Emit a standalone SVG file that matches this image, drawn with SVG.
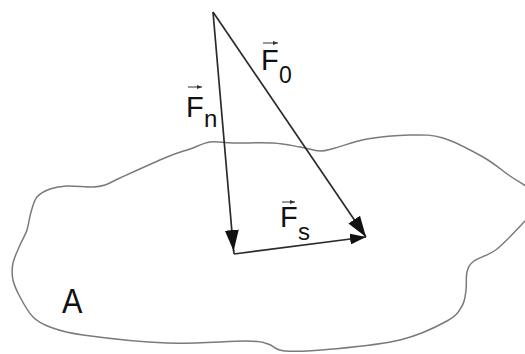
<svg xmlns="http://www.w3.org/2000/svg" width="525" height="354" viewBox="0 0 525 354">
<style>
.blob{fill:none;stroke:#7a7a7a;stroke-width:1.5}
.vec{fill:none;stroke:#2a2a2a;stroke-width:1.7}
.ov{fill:none;stroke:#333;stroke-width:1}
.lbl{font-family:"Liberation Sans",Arial,sans-serif;fill:#111}
</style>
<defs>
<marker id="big" markerUnits="userSpaceOnUse" markerWidth="22" markerHeight="14" refX="21" refY="7" orient="auto"><path d="M0,0 L21,7 L0,14 Z" fill="#111"/></marker>
<marker id="small" markerUnits="userSpaceOnUse" markerWidth="16" markerHeight="11" refX="16" refY="5.5" orient="auto"><path d="M0,0 L16,5.5 L0,11 Z" fill="#111"/></marker>
<marker id="tiny" markerUnits="userSpaceOnUse" markerWidth="5" markerHeight="4" refX="5" refY="2" orient="auto"><path d="M0,0 L5,2 L0,4 Z" fill="#333"/></marker>
</defs>
<g id="areaA">
<path class="blob" d="M37,197 C40.2,193.2 45,190.8 50,189 C55,187.2 59.8,186.3 67,186 C74.2,185.7 86.7,187.2 93,187 C99.3,186.8 100.5,186.5 105,185 C109.5,183.5 109.7,182.7 120,178 C130.3,173.3 155.3,161.8 167,157 C178.7,152.2 182.8,151.5 190,149 C197.2,146.5 202.8,143 210,142 C217.2,141 222.5,142.8 233,143 C243.5,143.2 261.8,142.3 273,143 C284.2,143.7 292.2,145.7 300,147 C307.8,148.3 314.2,150.8 320,151 C325.8,151.2 327.2,150 335,148 C342.8,146 354.5,141.2 367,139 C379.5,136.8 397.3,135.2 410,135 C422.7,134.8 430.8,134.3 443,138 C455.2,141.7 471.8,150.7 483,157 C494.2,163.3 502.5,170.8 510,176 C517.5,181.2 523,183.2 528,188 C533,192.8 540.3,199.7 540,205 C539.7,210.3 533.2,212.7 526,220 C518.8,227.3 505.7,242.2 497,249 C488.3,255.8 479,257.2 474,261 C469,264.8 468.3,267.2 467,272 C465.7,276.8 466.8,284.3 466,290 C465.2,295.7 465.2,300.8 462,306 C458.8,311.2 457.3,315.3 447,321 C436.7,326.7 419,335.3 400,340 C381,344.7 352.2,347.2 333,349 C313.8,350.8 295.8,351.8 285,351 C274.2,350.2 274.3,345.7 268,344 C261.7,342.3 263.8,341.2 247,341 C230.2,340.8 194.3,344 167,343 C139.7,342 102.5,337.7 83,335 C63.5,332.3 58.3,330 50,327 C41.7,324 38,322 33,317 C28,312 23.3,303.2 20,297 C16.7,290.8 14.2,285.7 13,280 C11.8,274.3 11.8,268.8 13,263 C14.2,257.2 17.7,250.5 20,245 C22.3,239.5 25.2,235.5 27,230 C28.8,224.5 29.3,217.5 31,212 C32.7,206.5 33.8,200.8 37,197 Z"/>
<text class="lbl" transform="translate(62,313) scale(0.85,1)" font-size="36">A</text>
</g>
<g id="connectors">
<line id="Fn" class="vec" x1="213" y1="12" x2="233.6" y2="251" marker-end="url(#big)"/>
<line id="Fn-tail" class="vec" x1="233.6" y1="250" x2="234" y2="254"/>
<line id="F0" class="vec" x1="213" y1="12" x2="366" y2="237" marker-end="url(#big)"/>
<line id="Fs" class="vec" x1="234" y1="254" x2="366" y2="237" marker-end="url(#small)"/>
</g>
<g id="label-Fn">
<line class="ov" x1="188" y1="87" x2="202" y2="87" marker-end="url(#tiny)"/>
<text class="lbl" x="186" y="117" font-size="29">F</text>
<text class="lbl" x="204" y="127" font-size="24">n</text>
</g>
<g id="label-F0">
<line class="ov" x1="263" y1="43" x2="278" y2="43" marker-end="url(#tiny)"/>
<text class="lbl" x="261" y="70" font-size="29">F</text>
<text class="lbl" x="279" y="83" font-size="23">0</text>
</g>
<g id="label-Fs">
<line class="ov" x1="282" y1="202" x2="295" y2="202" marker-end="url(#tiny)"/>
<text class="lbl" x="280" y="227" font-size="29">F</text>
<text class="lbl" x="298" y="240" font-size="24">s</text>
</g>
</svg>
